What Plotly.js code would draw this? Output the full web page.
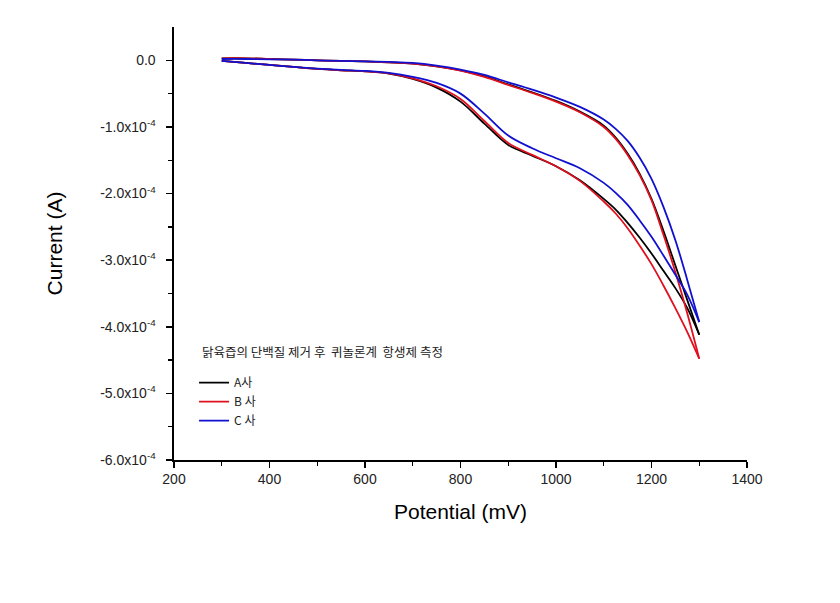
<!DOCTYPE html>
<html><head><meta charset="utf-8">
<script src="https://cdn.plot.ly/plotly-3.0.1.min.js"></script>
<style>html,body{margin:0;padding:0;background:#fff}#chart{width:840px;height:603px}</style>
</head><body><div id="chart"></div>
<script>
// Potential (mV): forward scan (300 -> 1300) and return scan (1300 -> 300)
const xForward = [300,350,400,450,500,550,600,650,700,750,800,850,900,950,1000,1050,1100,1125,1150,1175,1200,1225,1250,1275,1300];
const xReturn = [1300,1275,1250,1225,1200,1175,1150,1125,1100,1050,1000,950,900,850,800,750,700,650,600,550,500,450,400,350,300];

// Current (A)
const aForward = [0.03e-4,0.03e-4,0.02e-4,0.01e-4,0.0,-0.01e-4,-0.015e-4,-0.03e-4,-0.05e-4,-0.09e-4,-0.15e-4,-0.24e-4,-0.36e-4,-0.48e-4,-0.61e-4,-0.77e-4,-0.98e-4,-1.16e-4,-1.40e-4,-1.70e-4,-2.08e-4,-2.56e-4,-3.08e-4,-3.60e-4,-4.12e-4];
const aReturn = [-4.12e-4,-3.72e-4,-3.42e-4,-3.16e-4,-2.90e-4,-2.66e-4,-2.44e-4,-2.24e-4,-2.08e-4,-1.80e-4,-1.59e-4,-1.43e-4,-1.27e-4,-0.95e-4,-0.62e-4,-0.41e-4,-0.28e-4,-0.20e-4,-0.165e-4,-0.15e-4,-0.13e-4,-0.10e-4,-0.07e-4,-0.04e-4,-0.01e-4];

const bForward = [0.03e-4,0.03e-4,0.02e-4,0.01e-4,0.0,-0.01e-4,-0.015e-4,-0.03e-4,-0.05e-4,-0.09e-4,-0.155e-4,-0.25e-4,-0.37e-4,-0.49e-4,-0.62e-4,-0.78e-4,-1.0e-4,-1.18e-4,-1.42e-4,-1.72e-4,-2.10e-4,-2.62e-4,-3.18e-4,-3.80e-4,-4.48e-4];
const bReturn = [-4.48e-4,-4.08e-4,-3.72e-4,-3.38e-4,-3.06e-4,-2.78e-4,-2.52e-4,-2.30e-4,-2.12e-4,-1.81e-4,-1.59e-4,-1.42e-4,-1.24e-4,-0.91e-4,-0.58e-4,-0.39e-4,-0.27e-4,-0.195e-4,-0.165e-4,-0.15e-4,-0.13e-4,-0.10e-4,-0.07e-4,-0.04e-4,-0.01e-4];

const cForward = [0.02e-4,0.02e-4,0.015e-4,0.01e-4,0.0,-0.01e-4,-0.015e-4,-0.025e-4,-0.04e-4,-0.08e-4,-0.14e-4,-0.22e-4,-0.33e-4,-0.44e-4,-0.56e-4,-0.70e-4,-0.89e-4,-1.03e-4,-1.21e-4,-1.46e-4,-1.78e-4,-2.20e-4,-2.70e-4,-3.30e-4,-3.93e-4];
const cReturn = [-3.93e-4,-3.52e-4,-3.22e-4,-2.93e-4,-2.65e-4,-2.40e-4,-2.17e-4,-1.99e-4,-1.84e-4,-1.62e-4,-1.47e-4,-1.32e-4,-1.13e-4,-0.80e-4,-0.50e-4,-0.34e-4,-0.25e-4,-0.19e-4,-0.16e-4,-0.145e-4,-0.125e-4,-0.10e-4,-0.07e-4,-0.04e-4,-0.01e-4];

const seriesNames = ['A사','B 사','C 사'];
const seriesColors = ['#000000','#e0101e','#1010d0'];

const xTickVals = [200,400,600,800,1000,1200,1400];
const yTickVals = [0,-1e-4,-2e-4,-3e-4,-4e-4,-5e-4,-6e-4];
const yTickText = ['0.0','-1.0x10<sup>-4</sup>','-2.0x10<sup>-4</sup>','-3.0x10<sup>-4</sup>','-4.0x10<sup>-4</sup>','-5.0x10<sup>-4</sup>','-6.0x10<sup>-4</sup>'];
const noteText = '닭육즙의 단백질 제거 후  퀴놀론계  항생제 측정';

const forwards = [aForward, bForward, cForward];
const returns = [aReturn, bReturn, cReturn];

const traces = [];
for (let i = 0; i < 3; i++) {
  const line = {color: seriesColors[i], width:1.8, shape:'spline', smoothing:1};
  traces.push({x:xForward, y:forwards[i], type:'scatter', mode:'lines', name:seriesNames[i],
    legendgroup:'g'+i, showlegend:true, line:line});
  traces.push({x:xReturn, y:returns[i], type:'scatter', mode:'lines', name:seriesNames[i],
    legendgroup:'g'+i, showlegend:false, line:line});
}

const font = 'Liberation Sans, Arial, sans-serif';
const layout = {
  width:840, height:603,
  margin:{l:174, r:93, t:27, b:143},
  paper_bgcolor:'#fff', plot_bgcolor:'#fff',
  showlegend:true,
  legend:{x:0.035, y:0.212, xanchor:'left', yanchor:'top', bgcolor:'rgba(0,0,0,0)',
    font:{family:'Noto Sans CJK KR, Liberation Sans, sans-serif', size:12, color:'#222'},
    itemwidth:30, tracegroupgap:0},
  xaxis:{range:[200,1400], tickvals:xTickVals, showgrid:false, zeroline:false,
    showline:true, linecolor:'#000', linewidth:1.6, ticks:'outside', ticklen:6, tickwidth:1.6, tickcolor:'#000',
    minor:{tickvals:[300,500,700,900,1100,1300], ticks:'outside', ticklen:4, tickwidth:1.4, tickcolor:'#000'},
    tickfont:{family:font, size:14, color:'#222'},
    title:{text:'Potential (mV)', font:{family:font, size:21, color:'#000'}, standoff:18}},
  yaxis:{range:[-6e-4,0.5e-4], tickvals:yTickVals, ticktext:yTickText, showgrid:false, zeroline:false,
    showline:true, linecolor:'#000', linewidth:1.6, ticks:'outside', ticklen:6, tickwidth:1.6, tickcolor:'#000',
    ticklabelstandoff:8,
    minor:{tickvals:[-0.5e-4,-1.5e-4,-2.5e-4,-3.5e-4,-4.5e-4,-5.5e-4], ticks:'outside', ticklen:4, tickwidth:1.4, tickcolor:'#000'},
    tickfont:{family:font, size:14, color:'#222'},
    title:{text:'Current (A)', font:{family:font, size:21, color:'#000'}, standoff:32}},
  annotations:[{text:noteText, xref:'paper', yref:'paper', x:0.045, y:0.25, xanchor:'left', yanchor:'middle',
    showarrow:false, font:{family:'Noto Sans CJK KR, sans-serif', size:12.5, color:'#222'}}]
};
Plotly.newPlot('chart', traces, layout, {displayModeBar:false, staticPlot:true});
</script></body></html>
